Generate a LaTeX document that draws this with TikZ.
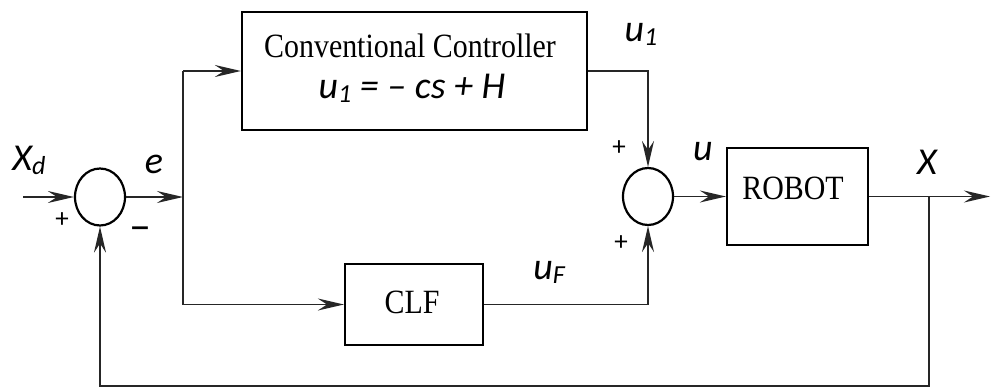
\documentclass[tikz,border=0pt]{standalone}
\usepackage{fontspec}
\setmainfont{Liberation Serif}
\newfontfamily\lbl{Carlito}
\usetikzlibrary{arrows.meta,shapes.geometric}
\newcommand{\sbx}[1]{{\fontsize{26}{26}\selectfont\raisebox{-4pt}{#1}}}
\begin{document}
\begin{tikzpicture}[x=1pt,y=-1pt,
  blk/.style={draw,line width=2.2pt,inner sep=0pt},
  sumj/.style={draw,ellipse,line width=2.2pt,inner sep=0pt,minimum width=50pt,minimum height=57pt},
  wire/.style={line width=1.9pt,draw=black!85},
  arr/.style={wire,-{Stealth[length=26pt,width=12pt,inset=9pt]}},
  sig/.style={font=\lbl\itshape\fontsize{38}{42}\selectfont,inner sep=0pt},
  sgn/.style={font=\lbl\fontsize{27}{30}\selectfont,inner sep=0pt},
  boxtxt/.style={font=\fontsize{34}{40}\selectfont,inner sep=0pt,xscale=0.88}]
\useasboundingbox (0,0) rectangle (992,390);
% blocks
\node[sumj] (s1) at (100,197) {};
\node[sumj] (s2) at (648,196.5) {};
\node[blk,minimum width=345pt,minimum height=118pt] (cc) at (414.5,71) {};
\node[blk,minimum width=138pt,minimum height=81pt] (clf) at (414,304.5) {};
\node[blk,minimum width=141pt,minimum height=97pt] (rob) at (797.5,196.5) {};
% texts in blocks
\node[boxtxt] (cct) at (410,46) {Conventional Controller};
\node[sig] (cceq) at (412,88) {u\sbx{1} = – cs + H};
\node[boxtxt] (clft) at (412,302) {CLF};
\node[boxtxt] (robt) at (793,188) {ROBOT};
% coordinates
\coordinate (in) at (23,197);
\coordinate (br) at (183,197);
\coordinate (top) at (183,71);
\coordinate (bot) at (183,304.5);
\coordinate (fb) at (929,196.5);
\coordinate (fbb) at (929,386);
\coordinate (out) at (990,196.5);
% connectors
\draw[arr] (in) -- (s1.west);
\draw[arr] (s1.east) -- (br);
\draw[wire] (top) -- (bot);
\draw[arr] (top) -- (cc.west);
\draw[arr] (bot) -- (clf.west);
\draw[arr] (cc.east) -| (s2.north);
\draw[arr] (clf.east) -| (s2.south);
\draw[arr] (s2.east) -- (rob.west);
\draw[arr] (rob.east) -- (out);
\draw[arr] (fb) -- (fbb) -| (s1.south);
% labels
\node[sig] (lxd) at (29,160) {X\sbx{d}};
\node[sig] (le) at (154,164) {e};
\node[sgn] (lp1) at (62,220) {+};
\node[font=\lbl\fontsize{44}{48}\selectfont,inner sep=0pt] (lm1) at (140,234) {–};
\node[sig] (lu1) at (641,34) {u\sbx{1}};
\node[sgn] (lp2) at (619,148) {+};
\node[sgn] (lp3) at (621,243) {+};
\node[sig] (lu) at (703,152) {u};
\node[sig] (luf) at (549,272) {u\sbx{F}};
\node[sig] (lx) at (927,162) {X};
\end{tikzpicture}
\end{document}
